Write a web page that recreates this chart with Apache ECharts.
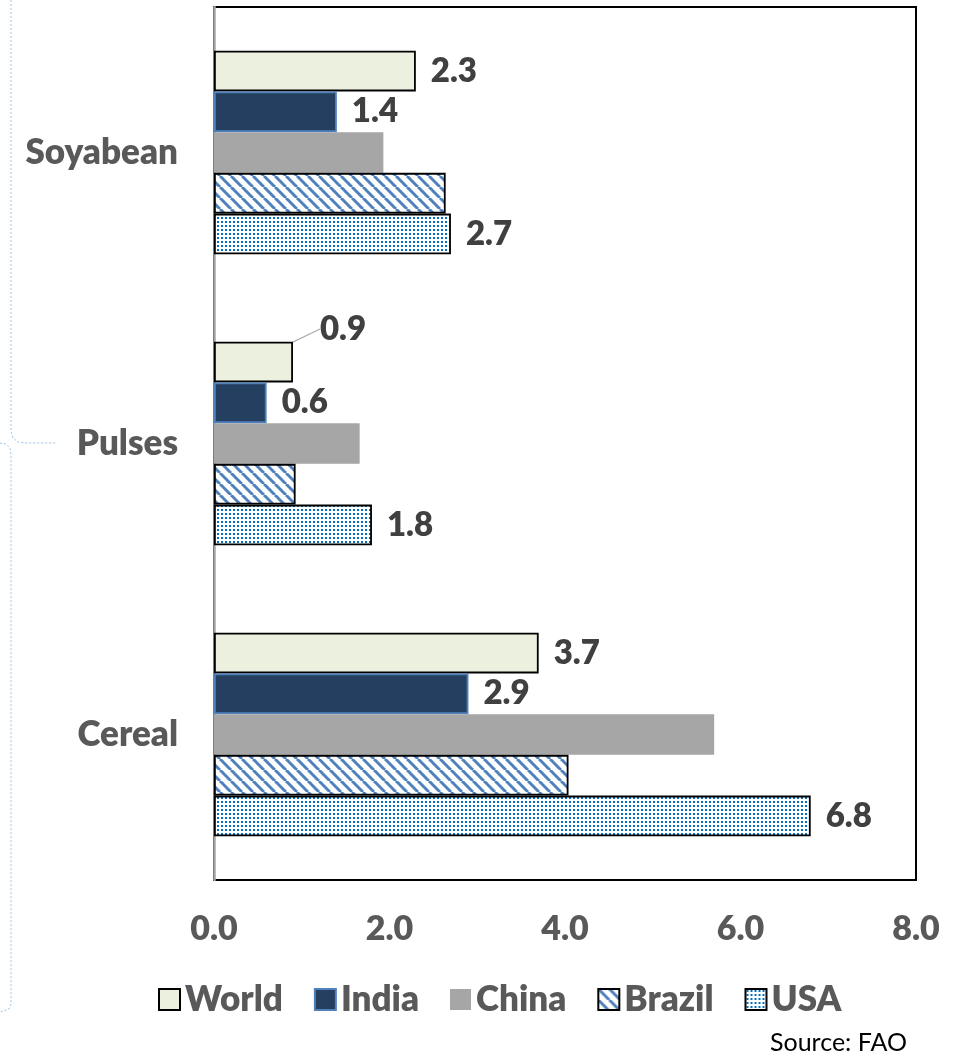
<!DOCTYPE html>
<html>
<head>
<meta charset="utf-8">
<title>Crop yields</title>
<script src="https://cdn.jsdelivr.net/npm/echarts@6/dist/echarts.min.js"></script>
<style>
  html, body { margin: 0; padding: 0; background: #fff; }
  #chart { width: 960px; height: 1054px; }
</style>
</head>
<body>
<div id="chart"></div>
<script>
// Yield by crop (t/ha)
const categories = ['Soyabean', 'Pulses', 'Cereal'];
const seriesNames = ['World', 'India', 'China', 'Brazil', 'USA'];
const worldValues = [2.3, 0.9, 3.7];
const indiaValues = [1.4, 0.6, 2.9];
const chinaValues = [1.93, 1.66, 5.70];
const brazilValues = [2.64, 0.93, 4.04];
const usaValues = [2.7, 1.8, 6.8];
const xTickValues = [0, 2, 4, 6, 8];

const FONT = 'Lato';
const WEIGHT = 800;
const LABEL_GREY = '#595959';

// Fill patterns for the hatched and dotted bars
function stripePattern() {
  const s = 11;
  const c = document.createElement('canvas');
  c.width = s; c.height = s;
  const g = c.getContext('2d');
  g.fillStyle = '#fff';
  g.fillRect(0, 0, s, s);
  g.strokeStyle = '#4F81BD';
  g.lineWidth = 3;
  for (let k = -1; k <= 1; k++) {
    g.beginPath();
    g.moveTo(k * s, 0);
    g.lineTo(k * s + s, s);
    g.stroke();
  }
  return { image: c, repeat: 'repeat' };
}

function dotPattern() {
  const s = 4;
  const c = document.createElement('canvas');
  c.width = s; c.height = s;
  const g = c.getContext('2d');
  g.fillStyle = '#fff';
  g.fillRect(0, 0, s, s);
  g.fillStyle = '#0070C0';
  g.fillRect(1, 1, 2, 2);
  return { image: c, repeat: 'repeat' };
}

const valueLabel = {
  show: true,
  position: 'right',
  distance: 15,
  fontFamily: FONT,
  fontWeight: WEIGHT,
  fontSize: 33,
  color: '#404040',
  formatter: p => p.value.toFixed(1)
};

function barSeries(name, values, itemStyle, withLabel) {
  return {
    name: name,
    type: 'bar',
    barGap: '0%',
    barCategoryGap: '30%',
    data: values.slice(),
    itemStyle: itemStyle,
    label: withLabel ? valueLabel : { show: false },
    emphasis: { disabled: true }
  };
}

const worldSeries = barSeries('World', worldValues,
  { color: '#EBF1DE', borderColor: '#000', borderWidth: 1.8 }, true);
// The Pulses label sits above its bar with a short leader line
worldSeries.data = worldValues.map((v, i) => i === 1
  ? { value: v, labelLine: { show: true, lineStyle: { color: '#a6a6a6', width: 1.2 } } }
  : v);
worldSeries.labelLayout = function (params) {
  if (params.dataIndex !== 1) return {};
  return { dx: 12, dy: -33 };
};

const braceStyle = { fill: null, stroke: '#9DC3E6', lineWidth: 1, lineDash: [2, 2] };

const option = {
  animation: false,
  backgroundColor: '#fff',
  textStyle: { fontFamily: FONT },
  grid: {
    left: 214,
    right: 44,
    top: 7,
    bottom: 174,
    show: true,
    borderColor: '#000',
    borderWidth: 2,
    backgroundColor: 'transparent'
  },
  xAxis: {
    type: 'value',
    min: xTickValues[0],
    max: xTickValues[xTickValues.length - 1],
    interval: xTickValues[1] - xTickValues[0],
    axisLine: { show: false },
    axisTick: { show: false },
    splitLine: { show: false },
    axisLabel: {
      margin: 32,
      fontFamily: FONT,
      fontWeight: WEIGHT,
      fontSize: 34,
      color: LABEL_GREY,
      formatter: v => v.toFixed(1)
    }
  },
  yAxis: {
    type: 'category',
    inverse: true,
    data: categories,
    axisLine: { show: true, lineStyle: { color: '#a6a6a6', width: 2.5 } },
    axisTick: { show: false },
    axisLabel: {
      margin: 36,
      fontFamily: FONT,
      fontWeight: WEIGHT,
      fontSize: 35,
      color: LABEL_GREY
    }
  },
  legend: {
    data: seriesNames,
    icon: 'rect',
    left: 153,
    top: 977,
    itemWidth: 21,
    itemHeight: 21,
    itemGap: 31,
    selectedMode: false,
    textStyle: {
      fontFamily: FONT,
      fontWeight: WEIGHT,
      fontSize: 35,
      color: LABEL_GREY
    }
  },
  series: [
    worldSeries,
    barSeries('India', indiaValues,
      { color: '#243F60', borderColor: '#4F81BD', borderWidth: 1.8 }, true),
    barSeries('China', chinaValues, { color: '#A6A6A6' }, false),
    barSeries('Brazil', brazilValues,
      { color: stripePattern(), borderColor: '#000', borderWidth: 1.8 }, false),
    barSeries('USA', usaValues,
      { color: dotPattern(), borderColor: '#000', borderWidth: 1.8 }, true)
  ],
  graphic: [
    {
      // brace along the left margin, upper half
      type: 'polyline',
      silent: true,
      shape: { points: [[11, 0], [11, 432], [13, 438], [18, 442], [26, 443], [57, 443]] },
      style: braceStyle
    },
    {
      // brace, lower half
      type: 'polyline',
      silent: true,
      shape: { points: [[0, 443], [6, 444], [10, 448], [11, 455], [11, 1004], [9, 1009], [4, 1011], [0, 1012]] },
      style: braceStyle
    },
    {
      type: 'text',
      left: 770,
      top: 1030,
      silent: true,
      style: {
        text: 'Source: FAO',
        fontFamily: FONT,
        fontSize: 25,
        fill: '#000'
      }
    }
  ]
};

const chart = echarts.init(document.getElementById('chart'), null, { renderer: 'canvas' });
chart.setOption(option);
</script>
</body>
</html>
